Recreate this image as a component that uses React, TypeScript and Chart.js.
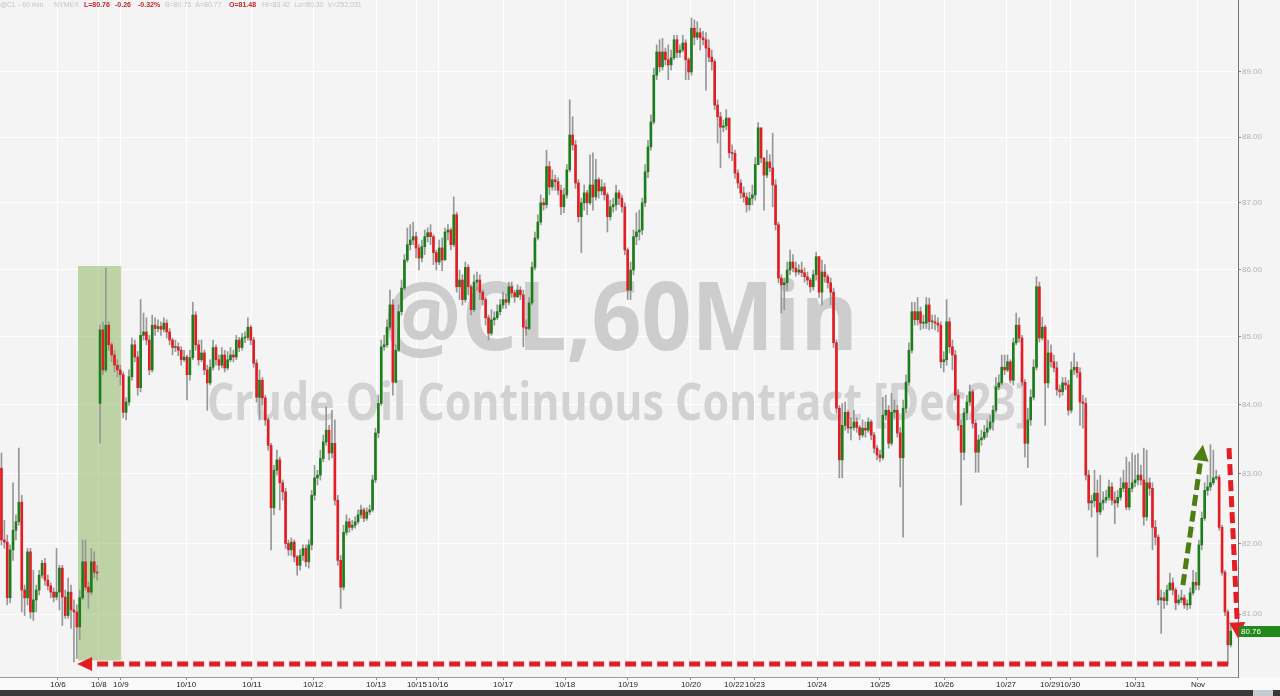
import React, { useEffect, useRef } from 'react';
import { Chart, registerables } from 'chart.js';

Chart.register(...registerables);

// ---------------- DATA ----------------
// hourly closes, @CL 60 min, 10/5 .. 11/1
const closes = [
  82.05, 82.02, 81.23, 81.91, 82.19, 82.31, 82.59, 81.34, 81.23, 81.88,
  81.03, 81.20, 81.34, 81.55, 81.72, 81.48, 81.40, 81.31, 81.24, 81.31,
  81.65, 81.24, 80.98, 81.31, 81.06, 81.03, 80.82, 81.23, 81.74, 81.38,
  81.31, 81.74, 81.59, 81.58,
  85.10, 84.51, 85.17, 84.88, 84.73, 84.58, 84.51, 84.44, 83.89, 84.04,
  84.41, 84.88, 84.70, 84.25, 85.02, 85.07, 84.95, 84.51, 85.17, 85.12,
  85.15, 85.11, 85.20, 85.07, 84.95, 84.84, 84.85, 84.80, 84.66, 84.70,
  84.44, 84.69, 85.32, 84.88, 84.66, 84.76, 84.51, 84.32, 84.55, 84.84,
  84.66, 84.58, 84.73, 84.54, 84.66, 84.73, 84.70, 84.95, 84.84, 84.98,
  84.99, 85.14,
  84.95, 84.61, 84.11, 84.36, 84.10, 83.78, 83.41, 82.51, 83.05, 83.20,
  82.87, 82.74, 82.00, 81.91, 82.02, 81.81, 81.69, 81.83, 81.93, 81.74,
  81.98, 82.69, 82.94, 82.98, 83.22, 83.46, 83.63, 83.30, 83.44, 82.62,
  81.76, 81.38, 82.16, 82.31, 82.23, 82.26, 82.31, 82.41, 82.48, 82.36,
  82.45, 82.48, 82.91, 83.59, 84.02, 84.85, 84.88, 85.14, 85.47, 84.33,
  84.80, 85.37, 85.72, 86.14, 86.37, 86.44, 86.49, 86.32, 86.17, 86.34,
  86.49, 86.55, 86.49, 86.25, 86.11, 86.32, 86.14, 86.56, 86.59, 86.37,
  86.82, 85.74, 85.84, 85.55, 86.03, 85.74, 85.40, 85.81, 85.84, 85.66,
  85.55, 85.28, 85.05, 85.25, 85.28, 85.37, 85.47, 85.55, 85.51, 85.74,
  85.65, 85.59, 85.69, 85.62, 85.14, 85.12, 85.50, 86.03, 86.47, 86.71,
  87.00, 86.97, 87.55, 87.24, 87.35, 87.32, 87.19, 86.94, 87.12, 87.50,
  88.03, 87.88, 87.30, 86.79, 87.00, 87.15, 87.00, 87.27, 87.09, 87.35,
  87.18, 87.24, 87.12, 86.79, 86.94, 86.97, 87.15, 87.07, 86.94, 86.29,
  85.69, 85.99, 86.49, 86.56, 86.59, 87.00, 87.47, 87.85, 88.23, 88.95,
  89.31, 89.08, 89.31, 89.19, 89.11, 89.22, 89.50, 89.30, 89.34, 89.45,
  89.19, 89.00, 89.68, 89.54, 89.61, 89.53, 89.50, 89.37, 89.23, 89.16,
  88.49, 88.31, 88.15, 88.17, 88.29, 87.76, 87.75, 87.45, 87.30, 87.15,
  87.09, 86.97, 87.07, 87.12, 87.58,
  88.14, 87.68, 87.42, 87.62, 87.53, 87.27, 86.67, 85.87, 85.77, 85.80,
  85.99, 86.11, 86.02, 85.96, 85.99, 85.95, 85.89, 85.84, 85.74, 85.92,
  86.19, 85.66, 85.96, 85.89, 85.80, 85.66, 84.91, 83.95, 83.20, 83.70,
  83.89, 83.66, 83.67, 83.75, 83.67, 83.56, 83.66, 83.63, 83.75, 83.56,
  83.37, 83.27, 83.23, 83.85, 83.92, 83.44, 83.89, 83.92, 83.59, 83.23,
  83.95, 84.33, 84.80, 85.37, 85.25, 85.37, 85.20, 85.20, 85.47, 85.22,
  85.22, 85.20, 85.17, 84.63, 84.66, 85.22, 84.85, 84.73, 84.14, 83.70,
  83.31, 83.88, 84.04, 84.19, 83.73, 83.31, 83.49, 83.52, 83.60, 83.66,
  83.75, 83.92, 84.26, 84.32, 84.55, 84.51, 84.63,
  84.36, 84.91, 85.17, 84.98, 84.33, 83.44, 83.78, 84.11, 84.55, 85.74,
  84.98, 85.14, 84.32, 84.76, 84.63, 84.54, 84.22, 84.19, 84.32, 84.29,
  83.92, 84.51, 84.55, 84.47, 84.04, 84.02, 82.98, 82.58, 82.61, 82.72,
  82.45, 82.58, 82.62, 82.66, 82.81, 82.62, 82.58, 82.66, 82.79, 82.87,
  82.52, 82.79, 82.87, 82.91, 82.98, 82.91, 82.38, 82.87, 82.79, 82.23,
  82.09, 81.20, 81.23, 81.19, 81.34, 81.44, 81.34, 81.16, 81.20, 81.23,
  81.13, 81.13, 81.30, 81.45, 81.41, 81.98, 82.36, 82.76, 82.81, 82.87,
  82.94, 82.95, 82.23, 81.59, 81.03, 80.57, 80.76,
];

const highs = [
  83.30, 82.33, 82.12, 81.98, 82.87, 82.41, 83.37, 82.69, 81.41, 81.93,
  81.93, 81.62, 81.41, 81.62, 81.76, 81.79, 81.55, 81.44, 81.37, 81.93,
  81.69, 81.69, 81.34, 81.51, 81.41, 81.20, 81.13, 81.34, 82.05, 82.05,
  81.45, 81.93, 81.88, 81.69,
  85.17, 85.22, 86.02, 85.22, 84.91, 84.80, 84.66, 84.58, 84.48, 84.10,
  84.51, 84.98, 84.95, 84.78, 85.55, 85.35, 85.28, 85.02, 85.32, 85.28,
  85.25, 85.22, 85.28, 85.25, 85.12, 84.98, 84.95, 84.91, 84.85, 84.80,
  84.73, 84.80, 85.51, 85.37, 84.95, 84.95, 84.80, 84.58, 84.66, 84.95,
  84.88, 84.73, 84.84, 84.80, 84.78, 84.84, 84.80, 85.02, 84.99, 85.05,
  85.07, 85.28,
  85.17, 84.99, 84.66, 84.51, 84.40, 84.14, 83.81, 83.44, 83.12, 83.34,
  83.24, 82.91, 82.79, 82.05, 82.08, 82.05, 81.83, 81.91, 81.98, 81.98,
  82.05, 82.76, 83.12, 83.05, 83.34, 83.56, 83.97, 83.70, 83.92, 83.78,
  82.69, 81.83, 82.26, 82.41, 82.36, 82.33, 82.38, 82.48, 82.55, 82.51,
  82.51, 82.55, 82.98, 83.66, 84.14, 84.95, 85.02, 85.25, 85.69, 85.55,
  84.88, 85.47, 85.84, 86.22, 86.62, 86.67, 86.71, 86.56, 86.37, 86.44,
  86.59, 86.62, 86.67, 86.52, 86.29, 86.44, 86.47, 86.62, 86.67, 86.62,
  87.09, 86.86, 85.99, 85.92, 86.11, 86.07, 85.77, 85.92, 85.96, 85.92,
  85.69, 85.58, 85.32, 85.40, 85.37, 85.47, 85.55, 85.66, 85.63, 85.81,
  85.81, 85.69, 85.77, 85.74, 85.69, 85.25, 85.58, 86.11, 86.56, 86.82,
  87.12, 87.07, 87.80, 87.63, 87.50, 87.42, 87.38, 87.27, 87.22, 87.58,
  88.57, 88.31, 87.95, 87.35, 87.07, 87.27, 87.19, 87.73, 87.76, 87.66,
  87.38, 87.35, 87.30, 87.15, 87.04, 87.07, 87.27, 87.19, 87.12, 87.00,
  86.32, 86.11, 86.59, 86.85, 86.89, 87.07, 87.58, 87.95, 88.34, 89.06,
  89.42, 89.50, 89.52, 89.37, 89.42, 89.34, 89.57, 89.57, 89.42, 89.57,
  89.50, 89.22, 89.84, 89.81, 89.78, 89.68, 89.63, 89.61, 89.50, 89.34,
  89.19, 88.57, 88.38, 88.26, 88.42, 88.11, 87.88, 87.80, 87.50, 87.35,
  87.24, 87.15, 87.16, 87.27, 87.69,
  88.22, 88.14, 87.68, 87.80, 87.73, 88.06, 87.35, 86.71, 85.92, 85.87,
  86.11, 86.29, 86.22, 86.11, 86.07, 86.11, 86.02, 85.96, 85.87, 85.99,
  86.26, 86.17, 86.14, 86.07, 85.92, 85.87, 85.72, 84.95, 83.99, 84.02,
  84.04, 83.92, 83.81, 83.92, 83.81, 83.70, 83.78, 83.75, 83.81, 83.78,
  83.60, 83.41, 83.34, 84.11, 84.14, 83.99, 84.17, 84.07, 83.99, 83.67,
  84.07, 84.44, 84.91, 85.51, 85.51, 85.58, 85.44, 85.32, 85.58, 85.57,
  85.32, 85.32, 85.28, 85.22, 84.78, 85.55, 85.28, 84.95, 84.80, 84.22,
  83.78, 83.95, 84.14, 84.29, 84.22, 83.78, 83.56, 83.63, 83.70, 83.78,
  83.85, 83.99, 84.40, 84.44, 84.73, 84.73, 84.73,
  84.66, 84.98, 85.35, 85.28, 85.02, 84.37, 83.95, 84.22, 84.66, 85.89,
  85.81, 85.29, 85.17, 84.95, 84.88, 84.73, 84.63, 84.29, 84.40, 84.40,
  84.36, 84.63, 84.76, 84.63, 84.54, 84.14, 84.10, 83.05, 82.69, 83.05,
  82.91, 82.98, 82.74, 82.76, 82.91, 82.87, 82.74, 82.76, 82.94, 83.05,
  83.24, 83.17, 83.30, 83.27, 83.29, 83.12, 83.37, 83.34, 82.94, 82.87,
  82.33, 82.12, 81.34, 81.31, 81.41, 81.58, 81.51, 81.37, 81.27, 81.34,
  81.27, 81.20, 81.37, 81.62, 81.59, 82.05, 82.45, 82.87, 82.98, 83.42,
  83.34, 83.05, 82.98, 82.26, 81.62, 81.06, 80.84,
];

const lows = [
  81.98, 81.93, 81.13, 81.16, 81.76, 82.05, 82.26, 81.03, 80.98, 81.13,
  80.94, 80.91, 81.03, 81.27, 81.51, 81.41, 81.34, 81.23, 81.17, 81.20,
  81.06, 80.84, 80.94, 80.94, 80.80, 80.33, 80.38, 80.64, 81.20, 81.34,
  81.08, 81.27, 81.51, 81.48,
  83.44, 84.44, 84.48, 84.80, 84.63, 84.48, 84.41, 84.29, 83.81, 83.78,
  83.99, 84.36, 84.63, 84.14, 84.19, 84.95, 84.88, 84.44, 84.48, 85.02,
  85.07, 85.02, 85.07, 84.98, 84.88, 84.73, 84.78, 84.72, 84.58, 84.63,
  84.07, 84.36, 84.66, 84.80, 84.58, 84.63, 84.44, 83.92, 84.29, 84.51,
  84.58, 84.51, 84.54, 84.48, 84.51, 84.63, 84.63, 84.66, 84.78, 84.80,
  84.91, 84.95,
  84.88, 84.55, 84.04, 83.78, 84.00, 83.70, 83.34, 81.91, 82.41, 82.98,
  82.48, 82.62, 81.93, 81.83, 81.83, 81.74, 81.55, 81.62, 81.76, 81.67,
  81.65, 81.91, 82.62, 82.84, 82.91, 83.17, 83.41, 83.20, 83.23, 82.55,
  81.69, 81.08, 81.34, 82.12, 82.16, 82.19, 82.22, 82.28, 82.36, 82.31,
  82.33, 82.41, 82.45, 82.87, 83.52, 83.99, 84.80, 84.84, 85.10, 84.14,
  84.32, 84.78, 85.32, 85.69, 86.11, 86.29, 86.37, 86.17, 85.99, 86.11,
  86.22, 86.41, 86.37, 86.07, 85.99, 86.07, 85.98, 86.14, 86.44, 86.29,
  86.34, 85.66, 85.55, 85.47, 85.51, 85.62, 85.32, 85.37, 85.69, 85.55,
  85.47, 85.17, 84.95, 85.02, 85.17, 85.25, 85.32, 85.42, 85.42, 85.47,
  85.58, 85.51, 85.58, 85.55, 84.85, 85.02, 85.10, 85.47, 85.99, 86.44,
  86.67, 86.89, 86.92, 87.12, 87.19, 87.19, 87.12, 86.82, 86.85, 87.07,
  87.47, 87.80, 87.22, 86.71, 86.25, 86.89, 86.82, 86.97, 86.89, 87.04,
  87.07, 87.12, 87.04, 86.56, 86.74, 86.86, 86.89, 86.97, 86.86, 86.22,
  85.55, 85.55, 85.92, 86.37, 86.44, 86.52, 86.94, 87.38, 87.80, 88.20,
  88.88, 89.00, 89.03, 89.11, 88.88, 89.03, 89.19, 89.22, 89.23, 89.31,
  88.88, 88.88, 88.95, 89.42, 89.50, 89.34, 89.42, 88.72, 89.16, 89.03,
  88.42, 87.91, 87.53, 88.08, 88.11, 87.68, 87.64, 87.37, 87.22, 87.07,
  87.01, 86.86, 86.89, 86.97, 87.04,
  87.58, 87.61, 86.89, 87.38, 87.47, 86.94, 86.59, 85.80, 85.35, 85.40,
  85.69, 85.92, 85.96, 85.90, 85.92, 85.89, 85.81, 85.77, 85.66, 85.69,
  85.84, 85.58, 85.47, 85.81, 85.72, 85.47, 84.84, 83.88, 82.94, 82.94,
  83.63, 83.59, 83.49, 83.63, 83.60, 83.49, 83.53, 83.53, 83.60, 83.49,
  83.30, 83.20, 83.17, 83.20, 83.78, 83.37, 83.41, 83.81, 83.53, 82.81,
  82.09, 83.89, 84.29, 84.76, 85.17, 85.17, 85.10, 85.12, 85.12, 85.10,
  85.12, 85.10, 85.07, 84.54, 84.48, 84.58, 84.76, 84.51, 84.07, 83.63,
  82.55, 83.20, 83.78, 83.99, 83.66, 83.02, 83.02, 83.41, 83.49, 83.53,
  83.63, 83.63, 83.89, 84.22, 84.29, 84.44, 84.48,
  84.32, 84.29, 84.88, 84.92, 84.28, 83.24, 83.09, 83.70, 84.07, 84.51,
  84.92, 84.95, 83.70, 84.25, 84.55, 84.48, 84.14, 84.11, 84.14, 84.22,
  83.85, 83.88, 84.44, 84.40, 83.70, 83.66, 82.91, 82.48, 82.38, 82.52,
  81.81, 82.41, 82.48, 82.58, 82.62, 82.55, 82.28, 82.52, 82.62, 82.74,
  82.48, 82.48, 82.74, 82.81, 82.84, 82.84, 82.26, 82.33, 82.69, 81.91,
  81.98, 81.13, 80.73, 81.08, 81.13, 81.34, 81.27, 81.06, 81.13, 81.16,
  81.08, 81.06, 81.08, 81.27, 81.34, 81.34, 81.91, 82.33, 82.69, 82.76,
  82.84, 82.91, 82.19, 81.55, 80.98, 80.30, 80.54,
];

// session opens that differ from the previous close: [bar index, open]
const sessionOpens: [number, number][] = [[0, 83.08], [34, 84.02]];

// x-axis day ticks (bar index) and their labels
const dayTickIdx = [19.5, 33.6, 41.2, 63.7, 86.4, 107.5, 129.2, 143.3, 150.6, 173.0, 194.4, 216.1, 237.8, 252.7, 259.9, 281.3, 303.0, 325.1, 346.5, 361.7, 368.6, 391.0, 412.7];
const dayLabels = ['10/6', '10/8', '10/9', '10/10', '10/11', '10/12', '10/13', '10/15', '10/16', '10/17', '10/18', '10/19', '10/20', '10/22', '10/23', '10/24', '10/25', '10/26', '10/27', '10/29', '10/30', '10/31', 'Nov'];

const priceTicks = [81, 82, 83, 84, 85, 86, 87, 88, 89];
const priceMin = 80.12;
const priceMax = 90.12;
const slotCount = 427;

const lastPrice = 80.76;
const headerTexts = ['@CL - 60 min', 'NYMEX', 'L=80.76', '-0.26', '-0.32%', 'B=80.75', 'A=80.77', 'O=81.48', 'Hi=83.42', 'Lo=80.30', 'V=252,031'];
const headerRed = [false, false, true, true, true, false, false, true, false, false, false];
const watermark1 = '@CL,60Min';
const watermark2 = 'Crude Oil Continuous Contract [Dec23]';

// annotation geometry in data units (bar index, price)
const highlightBox = { x0: 26.4, x1: 41.3, p0: 80.35, p1: 86.05 };
const supportArrow = { x0: 423.1, p0: 80.30, x1: 26.1, p1: 80.30 };
const upArrow = { x0: 407.5, p0: 81.41, x1: 414.4, p1: 83.42 };
const downArrow = { x0: 423.4, p0: 83.37, x1: 426.5, p1: 80.66 };

// ---------------- LAYOUT / STYLE ----------------
const W = 1280;
const H = 696;
const headerX = [0, 54, 84, 115, 138, 165, 194, 229, 262, 294, 325];
const RED = '#e21d24';
const GREEN = '#1c7e1a';
const ARROW_GREEN = '#4f7d12';

function drawArrow(ctx: CanvasRenderingContext2D, x0: number, y0: number, x1: number, y1: number, color: string, head = 16, half = 8) {
  const dx = x1 - x0, dy = y1 - y0;
  const len = Math.hypot(dx, dy);
  const ux = dx / len, uy = dy / len;
  const bx = x1 - ux * head, by = y1 - uy * head;
  ctx.save();
  ctx.strokeStyle = color;
  ctx.lineWidth = 5;
  ctx.setLineDash([11, 5]);
  ctx.beginPath();
  ctx.moveTo(x0, y0);
  ctx.lineTo(bx, by);
  ctx.stroke();
  ctx.setLineDash([]);
  ctx.fillStyle = color;
  ctx.beginPath();
  ctx.moveTo(x1, y1);
  ctx.lineTo(bx - uy * half, by + ux * half);
  ctx.lineTo(bx + uy * half, by - ux * half);
  ctx.closePath();
  ctx.fill();
  ctx.restore();
}

function fitText(ctx: CanvasRenderingContext2D, text: string, left: number, right: number, baseline: number, capH: number, color: string) {
  const size = capH / 0.72;
  ctx.save();
  ctx.font = `bold ${size}px "Open Sans", "DejaVu Sans", sans-serif`;
  const w = ctx.measureText(text).width;
  ctx.translate(left, baseline);
  ctx.scale((right - left) / w, 1);
  ctx.fillStyle = color;
  ctx.textAlign = 'left';
  ctx.textBaseline = 'alphabetic';
  ctx.fillText(text, 0, 0);
  ctx.restore();
}

const decorPlugin = {
  id: 'decor',
  beforeDraw(chart: any) {
    const ctx = chart.ctx as CanvasRenderingContext2D;
    const a = chart.chartArea;
    ctx.save();
    ctx.fillStyle = '#f4f4f4';
    ctx.fillRect(0, 0, W, H);
    ctx.fillStyle = '#fafafa';
    ctx.fillRect(0, a.bottom, W, H - a.bottom);
    ctx.fillStyle = '#3a3a3a';
    ctx.fillRect(0, 690, W, 6);
    ctx.fillStyle = '#c6cad1';
    ctx.fillRect(1253, 690, 20, 6);
    ctx.restore();
  },
  beforeDatasetsDraw(chart: any) {
    const ctx = chart.ctx as CanvasRenderingContext2D;
    const xs = chart.scales.x, ys = chart.scales.y;
    ctx.save();
    const bx0 = xs.getPixelForValue(highlightBox.x0), bx1 = xs.getPixelForValue(highlightBox.x1);
    const by0 = ys.getPixelForValue(highlightBox.p1), by1 = ys.getPixelForValue(highlightBox.p0);
    ctx.fillStyle = 'rgba(140,180,92,0.52)';
    ctx.fillRect(bx0, by0, bx1 - bx0, by1 - by0);
    fitText(ctx, watermark1, 383, 858, 350, 68, '#cdcdcd');
    fitText(ctx, watermark2, 207, 1030, 420, 37, '#d2d2d2');
    ctx.restore();
  },
  afterDatasetsDraw(chart: any) {
    const ctx = chart.ctx as CanvasRenderingContext2D;
    const xs = chart.scales.x, ys = chart.scales.y;
    const P = (x: number, p: number) => [xs.getPixelForValue(x), ys.getPixelForValue(p)];
    let [a, b] = P(supportArrow.x0, supportArrow.p0);
    let [c, d] = P(supportArrow.x1, supportArrow.p1);
    drawArrow(ctx, a, b, c, d, RED, 15, 7);
    [a, b] = P(upArrow.x0, upArrow.p0);
    [c, d] = P(upArrow.x1, upArrow.p1);
    drawArrow(ctx, a, b, c, d, ARROW_GREEN, 16, 8);
    [a, b] = P(downArrow.x0, downArrow.p0);
    [c, d] = P(downArrow.x1, downArrow.p1);
    drawArrow(ctx, a, b, c, d, RED, 16, 8);
  },
  afterDraw(chart: any) {
    const ctx = chart.ctx as CanvasRenderingContext2D;
    const ys = chart.scales.y;
    const area = chart.chartArea;
    ctx.save();
    ctx.textBaseline = 'middle';
    ctx.textAlign = 'left';
    let nextX = 0;
    headerTexts.forEach((t, i) => {
      ctx.font = headerRed[i] ? 'bold 7px "Liberation Sans", Arial, sans-serif' : '7px "Liberation Sans", Arial, sans-serif';
      ctx.fillStyle = headerRed[i] ? '#c4242a' : '#c4c4c4';
      const x = Math.max(headerX[i], nextX);
      ctx.fillText(t, x, 5.5);
      nextX = x + ctx.measureText(t).width + 4;
    });
    const py = Math.round(ys.getPixelForValue(lastPrice));
    ctx.fillStyle = '#23891d';
    ctx.fillRect(area.right + 1, py - 5, W - area.right - 1, 11);
    ctx.fillStyle = '#ffffff';
    ctx.font = '8px "Liberation Sans", Arial, sans-serif';
    ctx.fillText(lastPrice.toFixed(2), area.right + 3, py + 0.5);
    ctx.restore();
  },
};

export default function App() {
  const ref = useRef<HTMLCanvasElement | null>(null);

  useEffect(() => {
    document.body.style.margin = '0';
    const canvas = ref.current;
    if (!canvas) return;
    Chart.defaults.font.family = '"Liberation Sans", Arial, sans-serif';

    const openMap = new Map(sessionOpens);
    const opens = closes.map((c, i) => (openMap.has(i) ? (openMap.get(i) as number) : closes[i - 1]));
    const wickData = closes.map((c, i) => ({
      x: i,
      y: [Math.min(lows[i], opens[i], c), Math.max(highs[i], opens[i], c)],
    }));
    const bodyData = closes.map((c, i) => ({ x: i, y: [opens[i], c] }));
    const bodyColors = closes.map((c, i) => (c >= opens[i] ? GREEN : RED));

    const chart = new Chart(canvas, {
      type: 'bar',
      data: {
        datasets: [
          {
            label: 'wick',
            data: wickData as any,
            backgroundColor: '#979797',
            barThickness: 1,
            grouped: false,
            order: 2,
            borderWidth: 0,
          } as any,
          {
            label: 'body',
            data: bodyData as any,
            backgroundColor: bodyColors,
            barThickness: 2,
            minBarLength: 1,
            grouped: false,
            order: 1,
            borderWidth: 0,
          } as any,
        ],
      },
      options: {
        animation: false,
        responsive: false,
        maintainAspectRatio: false,
        devicePixelRatio: 1,
        layout: { padding: 0 },
        plugins: { legend: { display: false }, tooltip: { enabled: false } },
        scales: {
          x: {
            type: 'linear',
            min: -0.5,
            max: slotCount - 0.5,
            offset: false,
            position: 'bottom',
            afterBuildTicks: (s: any) => {
              s.ticks = dayTickIdx.map((v) => ({ value: v }));
            },
            afterFit: (s: any) => {
              s.height = 19;
              s.paddingLeft = 0;
              s.paddingRight = 0;
            },
            ticks: {
              autoSkip: false,
              maxRotation: 0,
              minRotation: 0,
              padding: 0,
              color: '#1e1e1e',
              font: { size: 8 },
              callback: (_v: any, i: number) => dayLabels[i],
            },
            grid: { color: '#ffffff', lineWidth: 1, offset: false, drawTicks: true, tickLength: 3, tickColor: '#8a8a8a' },
            border: { display: true, color: '#9a9a9a' },
          } as any,
          y: {
            type: 'logarithmic',
            position: 'right',
            min: priceMin,
            max: priceMax,
            beginAtZero: false,
            afterBuildTicks: (s: any) => {
              s.ticks = priceTicks.map((v) => ({ value: v }));
            },
            afterFit: (s: any) => {
              s.width = 42;
              s.paddingTop = 0;
              s.paddingBottom = 0;
            },
            ticks: {
              padding: 1,
              color: '#b2b2b2',
              font: { size: 8 },
              callback: (v: any) => Number(v).toFixed(2),
            },
            grid: { color: '#ffffff', lineWidth: 1, drawTicks: true, tickLength: 3, tickColor: '#8a8a8a' },
            border: { display: true, color: '#767676' },
          } as any,
        },
      },
      plugins: [decorPlugin],
    });

    return () => chart.destroy();
  }, []);

  return (
    <div style={{ position: 'fixed', left: 0, top: 0, width: W, height: H }}>
      <canvas ref={ref} width={W} height={H} style={{ display: 'block', width: W, height: H }} />
    </div>
  );
}
